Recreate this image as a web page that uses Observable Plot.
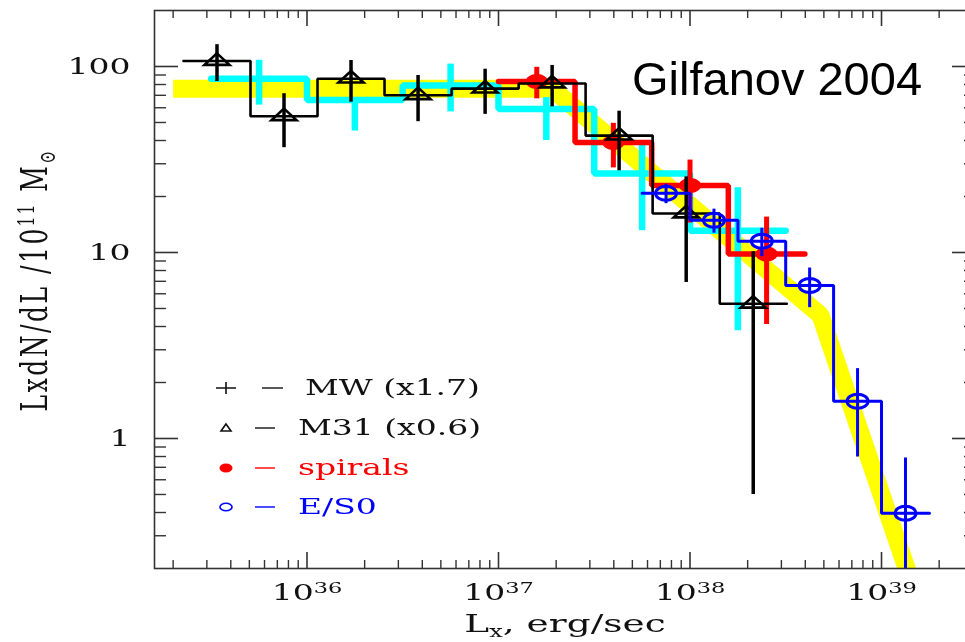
<!DOCTYPE html>
<html><head><meta charset="utf-8">
<script src="https://cdn.jsdelivr.net/npm/d3@7"></script>
<script src="https://cdn.jsdelivr.net/npm/@observablehq/plot@0.6"></script>
<style>
html,body{margin:0;padding:0;background:#fff;overflow:hidden;width:965px;height:642px;}
#wrap{position:relative;width:990px;height:642px;}
</style></head><body><div id="wrap"></div>
<script>
// ---------------- data ----------------
// yellow model band (centre line)
const bandL = [2.0e35, 1.9e37, 4.8e38, 1.7e39];
const bandV = [76, 76, 4.6, 0.1];

// MW (x1.7) – cyan histogram
const mwEdges = [3.16e35, 1.0e36, 3.16e36, 1.0e37, 3.16e37, 1.0e38, 3.16e38];
const mwVals  = [86, 66, 79, 59, 26.6, 13.1];
const mwErrHi = [22, 0, 24, 9, 12, 9.2];
const mwErrLo = [24, 21, 22, 19, 13.5, 9.3];

// M31 (x0.6) – black histogram with triangles
const m31Edges = [2.265e35, 5.07e35, 1.135e36, 2.54e36, 5.69e36, 1.274e37, 2.85e37, 6.38e37, 1.43e38, 3.2e38];
const m31Vals  = [107, 54, 86, 70, 76, 81, 42.5, 16.2, 5.3];
const m31Err   = [24, 17.4, 21.7, 19.5, 20.7, 20.3, 15, 9.3, 4.8];

// spirals – red histogram with filled circles
const spEdges = [1.0e37, 2.51e37, 6.31e37, 1.585e38, 3.98e38];
const spVals  = [83, 39, 22.9, 9.8];
const spErr   = [16, 10.5, 8.5, 5.7];

// E/S0 – blue histogram with open circles
const esEdges = [5.62e37, 1.0e38, 1.78e38, 3.16e38, 5.62e38, 1.0e39, 1.78e39];
const esVals  = [20.8, 14.9, 11.5, 6.65, 1.585, 0.396];
const esErr   = [2.5, 2.2, 2.0, 1.6, 0.79, 0.39];

// axes
const xMajor = [1e36, 1e37, 1e38, 1e39];
const yMajor = [1, 10, 100];
const legendLabels = ["MW (x1.7)", "M31 (x0.6)", "spirals", "E/S0"];
const legendColors = ["#111", "#111", "#ff0000", "#0000ff"];
const note = "Gilfanov 2004";
const xTitle = ["L", "x", ", erg/sec"];
const yTitle = ["LxdN/dL /10", "11", " M", "⊙"];

// ---------------- helpers ----------------
function steps(edges, vals) {
  const p = [];
  vals.forEach((v, i) => { p.push({x: edges[i], y: v}); p.push({x: edges[i + 1], y: v}); });
  return p;
}
function bars(edges, vals, hi, lo = hi) {
  return vals.map((v, i) => ({x: Math.sqrt(edges[i] * edges[i + 1]), y: v,
    lo: Math.max(v - lo[i], 1e-3), hi: v + hi[i]}));
}
const band = bandL.map((L, i) => ({x: L, y: bandV[i]}));
const minor = [];
for (let e = 35; e <= 39; e++) for (let m = 2; m <= 9; m++) minor.push(m * 10 ** e);
const minorY = [];
for (let e = -1; e <= 2; e++) for (let m = 2; m <= 9; m++) minorY.push(m * 10 ** e);

const ellipse = (rx, ry) => ({draw(ctx) {
  const k = 0.5523;
  ctx.moveTo(rx, 0);
  ctx.bezierCurveTo(rx, ry * k, rx * k, ry, 0, ry);
  ctx.bezierCurveTo(-rx * k, ry, -rx, ry * k, -rx, 0);
  ctx.bezierCurveTo(-rx, -ry * k, -rx * k, -ry, 0, -ry);
  ctx.bezierCurveTo(rx * k, -ry, rx, -ry * k, rx, 0);
  ctx.closePath();
}});
const triangle = (w, h) => ({draw(ctx) {
  ctx.moveTo(0, -2 * h / 3); ctx.lineTo(w, h / 3); ctx.lineTo(-w, h / 3); ctx.closePath();
}});

const W = 990, H = 642, mL = 154, mR = 14, mT = 10, mB = 74;
const fw = W - mL - mR, fh = H - mT - mB;
const tickC = "#333";

const mw = bars(mwEdges, mwVals, mwErrHi, mwErrLo);
const m31 = bars(m31Edges, m31Vals, m31Err);
const sp = bars(spEdges, spVals, spErr);
const es = bars(esEdges, esVals, esErr);

const chart = Plot.plot({
  width: W, height: H, marginLeft: mL, marginRight: mR, marginTop: mT, marginBottom: mB,
  x: {type: "log", domain: [10 ** 35.2037, 10 ** 39.496], label: null},
  y: {type: "log", domain: [0.2, 200], label: null},
  style: {fontFamily: "DejaVu Serif", fontSize: "22px", background: "#fff", color: "#111"},
  marks: [
    Plot.line(band, {x: "x", y: "y", stroke: "#ffff00", strokeWidth: 18, strokeLinecap: "butt", strokeLinejoin: "miter", clip: true}),
    // MW cyan
    Plot.line(steps(mwEdges, mwVals), {x: "x", y: "y", stroke: "#00ffff", strokeWidth: 6.5, strokeLinejoin: "miter", clip: true}),
    Plot.ruleX(mw, {x: "x", y1: "lo", y2: "hi", stroke: "#00ffff", strokeWidth: 6.5, clip: true}),
    // spirals red
    Plot.line(steps(spEdges, spVals), {x: "x", y: "y", stroke: "#ff0000", strokeWidth: 5.5, strokeLinejoin: "miter", clip: true}),
    Plot.ruleX(sp, {x: "x", y1: "lo", y2: "hi", stroke: "#ff0000", strokeWidth: 5, clip: true}),
    Plot.dot(sp, {x: "x", y: "y", symbol: ellipse(11, 7.5), fill: "#ff0000", stroke: "none", clip: true}),
    // M31 black
    Plot.line(steps(m31Edges, m31Vals), {x: "x", y: "y", stroke: "#000", strokeWidth: 2.6, strokeLinejoin: "miter", clip: true}),
    Plot.ruleX(m31, {x: "x", y1: "lo", y2: "hi", stroke: "#000", strokeWidth: 3.5, clip: true}),
    Plot.dot(m31, {x: "x", y: "y", symbol: triangle(12.5, 11.5), fill: "none", stroke: "#000", strokeWidth: 2.6, clip: true}),
    // E/S0 blue
    Plot.line(steps(esEdges, esVals), {x: "x", y: "y", stroke: "#0000ff", strokeWidth: 3, strokeLinejoin: "miter", clip: true, mixBlendMode: "multiply"}),
    Plot.ruleX(es, {x: "x", y1: "lo", y2: "hi", stroke: "#0000ff", strokeWidth: 3, clip: true, mixBlendMode: "multiply"}),
    Plot.dot(es, {x: "x", y: "y", symbol: ellipse(10.5, 7), fill: "none", stroke: "#0000ff", strokeWidth: 3, clip: true, mixBlendMode: "multiply"}),
    // frame + inward ticks
    Plot.frame({stroke: tickC, strokeWidth: 1.6}),
    Plot.ruleX(xMajor, {stroke: tickC, strokeWidth: 1.6, insetTop: fh - 16}),
    Plot.ruleX(xMajor, {stroke: tickC, strokeWidth: 1.6, insetBottom: fh - 16}),
    Plot.ruleX(minor, {filter: d => d > 10 ** 35.21 && d < 10 ** 39.49, stroke: tickC, strokeWidth: 1.4, insetTop: fh - 8}),
    Plot.ruleX(minor, {filter: d => d > 10 ** 35.21 && d < 10 ** 39.49, stroke: tickC, strokeWidth: 1.4, insetBottom: fh - 8}),
    Plot.ruleY(yMajor, {stroke: tickC, strokeWidth: 1.6, insetRight: fw - 24}),
    Plot.ruleY(yMajor, {stroke: tickC, strokeWidth: 1.6, insetLeft: fw - 24}),
    Plot.ruleY(minorY, {filter: d => d > 0.2 && d < 200, stroke: tickC, strokeWidth: 1.4, insetRight: fw - 12}),
    Plot.ruleY(minorY, {filter: d => d > 0.2 && d < 200, stroke: tickC, strokeWidth: 1.4, insetLeft: fw - 12}),
    Plot.axisX({ticks: xMajor, tickSize: 0, tickPadding: 16, tickFormat: d => "10^" + Math.round(Math.log10(d))}),
    Plot.axisY({ticks: yMajor, tickSize: 0, tickPadding: 24, tickFormat: d => String(d)})
  ]
});
document.getElementById("wrap").appendChild(chart);

const svg = d3.select(chart);
function stretch(el, sx, sy) {
  const t = el.getAttribute("transform") || "";
  el.setAttribute("transform", t + ` scale(${sx},${sy})`);
}
// y tick labels
svg.selectAll('g[aria-label="y-axis tick label"] text').each(function () { stretch(this, 1.5, 1); });
// x tick labels: 10 with superscript exponent
svg.selectAll('g[aria-label="x-axis tick label"] text').each(function () {
  const s = this.textContent.split("^");
  this.textContent = s[0];
  d3.select(this).append("tspan").attr("font-size", "15px").attr("dy", "-7px").text(s[1]);
  stretch(this, 1.5, 1);
});

// axis titles
const xt = svg.append("text").attr("transform", "translate(565,632) scale(1.5,1)")
  .attr("text-anchor", "middle").attr("font-size", "25px").attr("fill", "#111");
xt.append("tspan").text(xTitle[0]);
xt.append("tspan").attr("font-size", "16px").attr("dy", "5px").text(xTitle[1]);
xt.append("tspan").attr("dy", "-5px").text(xTitle[2]);

const yt = svg.append("text").attr("transform", "translate(47,280) rotate(-90) scale(1,1.5)")
  .attr("text-anchor", "middle").attr("font-size", "25px").attr("letter-spacing", "2.5px").attr("fill", "#111");
yt.append("tspan").text(yTitle[0]);
yt.append("tspan").attr("font-size", "15px").attr("dy", "-9px").text(yTitle[1]);
yt.append("tspan").attr("dy", "9px").text(yTitle[2]);
yt.append("tspan").attr("font-size", "15px").attr("dy", "5px").text(yTitle[3]);

// legend
const rowsY = [388, 428, 468, 507];
const textX = [305, 298, 298, 298];
const lg = svg.append("g").attr("text-anchor", "start");
rowsY.forEach((y, i) => {
  const c = legendColors[i];
  const g = lg.append("g").attr("transform", `translate(226,${y})`);
  if (i === 0) {
    g.append("path").attr("d", "M-10,0H10M0,-6V6").attr("stroke", c).attr("stroke-width", 1.6);
  } else if (i === 1) {
    g.append("path").attr("d", "M0,-4L5,3L-5,3Z").attr("stroke", c).attr("fill", "none").attr("stroke-width", 1.6);
  } else if (i === 2) {
    g.append("ellipse").attr("rx", 6.5).attr("ry", 4.5).attr("fill", c);
  } else {
    g.append("ellipse").attr("rx", 6).attr("ry", 3.8).attr("fill", "none").attr("stroke", c).attr("stroke-width", 1.6);
  }
  lg.append("line").attr("x1", i === 0 ? 262 : 255).attr("x2", i === 0 ? 283 : 275)
    .attr("y1", y).attr("y2", y).attr("stroke", c).attr("stroke-width", 1.4);
  lg.append("text").attr("transform", `translate(${textX[i]},${y + 7}) scale(1.5,1)`)
    .attr("text-anchor", "start").attr("font-size", "22px").attr("fill", c).text(legendLabels[i]);
});

svg.append("text").attr("x", 632).attr("y", 95).attr("text-anchor", "start")
  .attr("font-family", "Liberation Sans, Arial, sans-serif")
  .attr("font-size", "47px").attr("fill", "#000").text(note);
</script></body></html>
